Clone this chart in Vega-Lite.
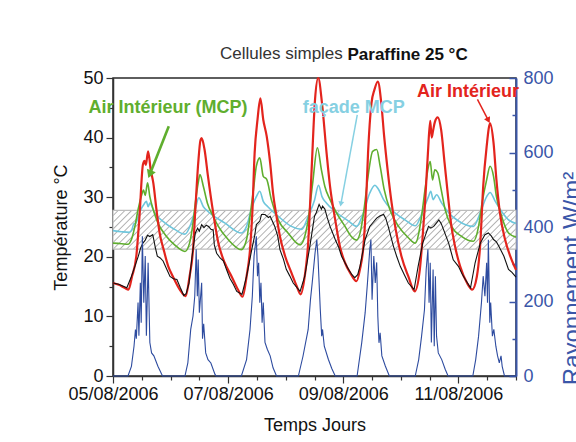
{
  "$schema": "https://vega.github.io/schema/vega-lite/v6.json",
  "width": 403,
  "height": 298,
  "autosize": "none",
  "padding": {"left": 113, "top": 78, "right": 60, "bottom": 66},
  "background": "white",
  "config": {
    "font": "Liberation Sans",
    "view": {"stroke": "#2a2a2a", "strokeWidth": 1.5},
    "axis": {"grid": false, "labelFont": "Liberation Sans", "titleFont": "Liberation Sans", "titleFontWeight": "normal"}
  },
  "title": {"text": "Cellules simples", "anchor": "start", "frame": "group", "dx": 107, "dy": 50, "offset": 19, "baseline": "alphabetic", "fontSize": 17, "fontWeight": "normal", "color": "#333333", "font": "Liberation Sans"},
  "datasets": {
    "band": [{"j": 0, "j2": 7, "v": 21.3, "v2": 27.8}],
    "air": [
      {"j":0,"v":15.6},{"j":0.1,"v":15.3},{"j":0.2,"v":14.8},{"j":0.27,"v":14.5},{"j":0.33,"v":16.7},{"j":0.405,"v":20.1},{"j":0.46,"v":26.8},{"j":0.52,"v":35.5},{"j":0.55,"v":36.1},{"j":0.57,"v":35.4},{"j":0.61,"v":37.7},{"j":0.655,"v":34.6},{"j":0.7,"v":32.4},{"j":0.755,"v":27.9},{"j":0.81,"v":24},{"j":0.88,"v":21.2},{"j":0.96,"v":18.4},{"j":1.04,"v":16.7},{"j":1.16,"v":14.5},{"j":1.26,"v":13.4},{"j":1.33,"v":16.7},{"j":1.39,"v":21.2},{"j":1.43,"v":27.9},{"j":1.48,"v":35.7},{"j":1.52,"v":39.6},{"j":1.54,"v":39.9},{"j":1.59,"v":38},{"j":1.65,"v":33.5},{"j":1.74,"v":27.4},{"j":1.83,"v":22.3},{"j":1.94,"v":19},{"j":2.06,"v":16.7},{"j":2.17,"v":14.5},{"j":2.25,"v":13.3},{"j":2.32,"v":16.7},{"j":2.38,"v":21.2},{"j":2.42,"v":27.4},{"j":2.46,"v":37.4},{"j":2.51,"v":43},{"j":2.56,"v":46.6},{"j":2.61,"v":43},{"j":2.67,"v":40.2},{"j":2.73,"v":35.7},{"j":2.78,"v":30.7},{"j":2.84,"v":26.8},{"j":2.9,"v":23.4},{"j":2.99,"v":20.1},{"j":3.1,"v":17.3},{"j":3.19,"v":15.1},{"j":3.26,"v":13.7},{"j":3.33,"v":16.7},{"j":3.39,"v":22.3},{"j":3.45,"v":34.6},{"j":3.51,"v":46.5},{"j":3.565,"v":50},{"j":3.63,"v":45.8},{"j":3.71,"v":37.4},{"j":3.77,"v":31.8},{"j":3.86,"v":26.2},{"j":3.94,"v":21.8},{"j":4.03,"v":19},{"j":4.12,"v":17.3},{"j":4.23,"v":15.9},{"j":4.29,"v":17.9},{"j":4.35,"v":21.8},{"j":4.39,"v":27.9},{"j":4.43,"v":37.4},{"j":4.49,"v":45.8},{"j":4.54,"v":48},{"j":4.6,"v":49.4},{"j":4.66,"v":45.8},{"j":4.71,"v":40.2},{"j":4.77,"v":34.6},{"j":4.84,"v":29},{"j":4.91,"v":24.6},{"j":5.01,"v":20.1},{"j":5.13,"v":16.7},{"j":5.24,"v":14.2},{"j":5.33,"v":17.9},{"j":5.37,"v":22.3},{"j":5.42,"v":29},{"j":5.47,"v":37.4},{"j":5.51,"v":42.8},{"j":5.535,"v":40},{"j":5.56,"v":41.2},{"j":5.59,"v":42.6},{"j":5.64,"v":43.4},{"j":5.7,"v":41.3},{"j":5.76,"v":35.7},{"j":5.82,"v":30.1},{"j":5.87,"v":25.7},{"j":5.94,"v":21.8},{"j":6.03,"v":18.4},{"j":6.15,"v":15.6},{"j":6.24,"v":14.5},{"j":6.32,"v":16.7},{"j":6.38,"v":22.3},{"j":6.43,"v":31.8},{"j":6.49,"v":38.5},{"j":6.55,"v":42.4},{"j":6.61,"v":39.1},{"j":6.66,"v":32.9},{"j":6.72,"v":27.4},{"j":6.81,"v":22.9},{"j":6.9,"v":20.1},{"j":7,"v":17.8}
    ],
    "mcp": [
      {"j":0,"v":22.3},{"j":0.15,"v":22.2},{"j":0.26,"v":22.1},{"j":0.32,"v":22.9},{"j":0.38,"v":25.1},{"j":0.435,"v":27.9},{"j":0.49,"v":30.1},{"j":0.53,"v":31.2},{"j":0.56,"v":30.3},{"j":0.6,"v":32.4},{"j":0.64,"v":30.1},{"j":0.7,"v":27.9},{"j":0.78,"v":25.7},{"j":0.93,"v":23.4},{"j":1.07,"v":22},{"j":1.25,"v":20.9},{"j":1.33,"v":22.3},{"j":1.39,"v":25.7},{"j":1.43,"v":29},{"j":1.48,"v":32.4},{"j":1.51,"v":33.8},{"j":1.57,"v":31.8},{"j":1.64,"v":29},{"j":1.74,"v":26.8},{"j":1.83,"v":25.1},{"j":2,"v":22.9},{"j":2.23,"v":21.2},{"j":2.32,"v":22.9},{"j":2.38,"v":26.8},{"j":2.44,"v":31.3},{"j":2.49,"v":35.2},{"j":2.55,"v":36.6},{"j":2.61,"v":33.5},{"j":2.67,"v":33},{"j":2.75,"v":29.6},{"j":2.87,"v":26.2},{"j":3.04,"v":24},{"j":3.25,"v":22},{"j":3.33,"v":23.4},{"j":3.39,"v":26.2},{"j":3.47,"v":32.5},{"j":3.55,"v":38.3},{"j":3.62,"v":34.6},{"j":3.68,"v":31.8},{"j":3.77,"v":29.6},{"j":3.88,"v":27.4},{"j":4.03,"v":25.1},{"j":4.14,"v":23.4},{"j":4.23,"v":22.8},{"j":4.3,"v":24.3},{"j":4.36,"v":27.9},{"j":4.43,"v":33.5},{"j":4.51,"v":37.7},{"j":4.58,"v":38},{"j":4.64,"v":35.2},{"j":4.71,"v":31.3},{"j":4.81,"v":27.9},{"j":4.96,"v":25.1},{"j":5.13,"v":23.2},{"j":5.25,"v":22.3},{"j":5.36,"v":26.8},{"j":5.42,"v":31.3},{"j":5.48,"v":35.2},{"j":5.51,"v":36},{"j":5.55,"v":32.9},{"j":5.59,"v":34.6},{"j":5.64,"v":34.1},{"j":5.7,"v":31.3},{"j":5.77,"v":27.9},{"j":5.88,"v":25.1},{"j":6.06,"v":23.4},{"j":6.26,"v":22.6},{"j":6.35,"v":25.1},{"j":6.41,"v":29},{"j":6.49,"v":32.9},{"j":6.55,"v":35.2},{"j":6.61,"v":33.5},{"j":6.66,"v":30.1},{"j":6.75,"v":26.8},{"j":6.87,"v":24},{"j":7,"v":23.3}
    ],
    "facade": [
      {"j":0,"v":24.4},{"j":0.15,"v":24.2},{"j":0.28,"v":24.1},{"j":0.33,"v":24.6},{"j":0.36,"v":25.5},{"j":0.4,"v":25.7},{"j":0.46,"v":27.4},{"j":0.55,"v":29},{"j":0.58,"v":29.3},{"j":0.61,"v":28.4},{"j":0.64,"v":29},{"j":0.72,"v":27.4},{"j":0.9,"v":25.7},{"j":1.07,"v":24.6},{"j":1.25,"v":23.8},{"j":1.36,"v":25.7},{"j":1.43,"v":28},{"j":1.49,"v":29.9},{"j":1.57,"v":28.4},{"j":1.65,"v":27.6},{"j":1.94,"v":25.7},{"j":2.23,"v":24},{"j":2.32,"v":25.1},{"j":2.4,"v":27.9},{"j":2.49,"v":30.1},{"j":2.55,"v":31},{"j":2.61,"v":29.3},{"j":2.69,"v":28.4},{"j":2.87,"v":26.8},{"j":3.1,"v":25.1},{"j":3.28,"v":24.6},{"j":3.39,"v":26.8},{"j":3.5,"v":29.5},{"j":3.57,"v":32},{"j":3.63,"v":30.1},{"j":3.71,"v":29},{"j":3.86,"v":27.6},{"j":4.09,"v":26},{"j":4.23,"v":25.1},{"j":4.35,"v":27.4},{"j":4.46,"v":30.7},{"j":4.55,"v":32},{"j":4.6,"v":31.5},{"j":4.7,"v":29.6},{"j":4.84,"v":27.9},{"j":5.07,"v":26.2},{"j":5.25,"v":25.2},{"j":5.39,"v":27.9},{"j":5.48,"v":30.1},{"j":5.52,"v":31},{"j":5.56,"v":29.6},{"j":5.62,"v":30.4},{"j":5.71,"v":29},{"j":5.83,"v":27.4},{"j":6,"v":26},{"j":6.26,"v":25.1},{"j":6.38,"v":27.4},{"j":6.49,"v":30.1},{"j":6.55,"v":30.8},{"j":6.64,"v":29.3},{"j":6.75,"v":27.6},{"j":6.87,"v":26.2},{"j":7,"v":25.6}
    ],
    "ext": [
      {"j":0,"v":15.6},{"j":0.1,"v":15.4},{"j":0.24,"v":14.8},{"j":0.32,"v":16.7},{"j":0.38,"v":18.4},{"j":0.44,"v":20.1},{"j":0.48,"v":21.5},{"j":0.52,"v":22.3},{"j":0.56,"v":22.8},{"j":0.6,"v":23.6},{"j":0.64,"v":23.4},{"j":0.69,"v":23.7},{"j":0.71,"v":22.8},{"j":0.73,"v":21.8},{"j":0.77,"v":20.1},{"j":0.82,"v":19.8},{"j":0.87,"v":19.3},{"j":0.93,"v":18},{"j":0.99,"v":16.7},{"j":1.05,"v":16.3},{"j":1.11,"v":16.2},{"j":1.17,"v":14.8},{"j":1.23,"v":13.5},{"j":1.27,"v":13.8},{"j":1.32,"v":15.6},{"j":1.38,"v":20.6},{"j":1.43,"v":24},{"j":1.47,"v":24.8},{"j":1.5,"v":24.3},{"j":1.54,"v":25.4},{"j":1.58,"v":24.9},{"j":1.62,"v":25.3},{"j":1.66,"v":25.1},{"j":1.7,"v":24.6},{"j":1.74,"v":24.5},{"j":1.76,"v":22},{"j":1.8,"v":20.6},{"j":1.86,"v":19.8},{"j":1.92,"v":19.3},{"j":1.97,"v":17.9},{"j":2.03,"v":16.4},{"j":2.09,"v":15.4},{"j":2.15,"v":14.2},{"j":2.24,"v":13.7},{"j":2.32,"v":16.7},{"j":2.41,"v":21.2},{"j":2.46,"v":23.5},{"j":2.49,"v":25.4},{"j":2.55,"v":26},{"j":2.58,"v":27.1},{"j":2.64,"v":27.1},{"j":2.7,"v":26.6},{"j":2.73,"v":26.8},{"j":2.81,"v":25.1},{"j":2.86,"v":23.5},{"j":2.9,"v":21.2},{"j":2.96,"v":19.6},{"j":3.01,"v":17.9},{"j":3.07,"v":16.8},{"j":3.13,"v":15.6},{"j":3.25,"v":14.2},{"j":3.33,"v":16.7},{"j":3.42,"v":21.8},{"j":3.5,"v":26.8},{"j":3.53,"v":27.4},{"j":3.58,"v":28.8},{"j":3.62,"v":28},{"j":3.64,"v":28.5},{"j":3.68,"v":28},{"j":3.72,"v":26.6},{"j":3.77,"v":25.1},{"j":3.86,"v":22.9},{"j":3.92,"v":21.6},{"j":3.97,"v":20.1},{"j":4.03,"v":19},{"j":4.09,"v":17.9},{"j":4.15,"v":17},{"j":4.2,"v":16.5},{"j":4.25,"v":17},{"j":4.29,"v":18.4},{"j":4.38,"v":22.9},{"j":4.46,"v":25.1},{"j":4.52,"v":25.8},{"j":4.58,"v":26.5},{"j":4.64,"v":26.9},{"j":4.7,"v":27.1},{"j":4.74,"v":26.4},{"j":4.78,"v":25.1},{"j":4.87,"v":21.8},{"j":4.93,"v":20},{"j":4.99,"v":18.4},{"j":5.06,"v":17},{"j":5.13,"v":15.6},{"j":5.23,"v":14.5},{"j":5.3,"v":18.4},{"j":5.38,"v":22.3},{"j":5.48,"v":25.1},{"j":5.52,"v":24.8},{"j":5.57,"v":25.1},{"j":5.62,"v":25.7},{"j":5.66,"v":26.2},{"j":5.7,"v":25.6},{"j":5.74,"v":24.6},{"j":5.83,"v":22.3},{"j":5.91,"v":19.5},{"j":6,"v":18.4},{"j":6.06,"v":17.2},{"j":6.12,"v":16.2},{"j":6.21,"v":14.8},{"j":6.29,"v":19},{"j":6.38,"v":22.3},{"j":6.46,"v":23.7},{"j":6.52,"v":24},{"j":6.57,"v":23.5},{"j":6.61,"v":22.9},{"j":6.66,"v":22.5},{"j":6.7,"v":21.8},{"j":6.79,"v":20.1},{"j":6.87,"v":17.9},{"j":6.93,"v":17.4},{"j":7,"v":16.6}
    ],
    "ray": [
      {"j":0,"r":0},{"j":0.26,"r":0},{"j":0.32,"r":26},{"j":0.365,"r":80},{"j":0.39,"r":125},{"j":0.405,"r":100},{"j":0.435,"r":197},{"j":0.45,"r":108},{"j":0.475,"r":250},{"j":0.49,"r":143},{"j":0.51,"r":375},{"j":0.535,"r":197},{"j":0.56,"r":322},{"j":0.58,"r":108},{"j":0.61,"r":304},{"j":0.64,"r":90},{"j":0.67,"r":62},{"j":0.71,"r":54},{"j":0.78,"r":26},{"j":0.86,"r":0},
      {"j":1.25,"r":0},{"j":1.3,"r":35},{"j":1.35,"r":125},{"j":1.39,"r":161},{"j":1.42,"r":214},{"j":1.445,"r":340},{"j":1.465,"r":214},{"j":1.48,"r":313},{"j":1.5,"r":170},{"j":1.54,"r":250},{"j":1.555,"r":100},{"j":1.575,"r":140},{"j":1.61,"r":62},{"j":1.65,"r":44},{"j":1.7,"r":35},{"j":1.77,"r":5},{"j":1.79,"r":0},
      {"j":2.23,"r":0},{"j":2.32,"r":44},{"j":2.38,"r":125},{"j":2.42,"r":214},{"j":2.45,"r":322},{"j":2.49,"r":375},{"j":2.51,"r":268},{"j":2.53,"r":304},{"j":2.55,"r":197},{"j":2.57,"r":250},{"j":2.59,"r":143},{"j":2.61,"r":197},{"j":2.64,"r":90},{"j":2.68,"r":72},{"j":2.73,"r":54},{"j":2.78,"r":22},{"j":2.84,"r":0},
      {"j":3.22,"r":0},{"j":3.3,"r":53},{"j":3.39,"r":125},{"j":3.43,"r":205},{"j":3.46,"r":250},{"j":3.51,"r":331},{"j":3.54,"r":366},{"j":3.56,"r":322},{"j":3.6,"r":180},{"j":3.625,"r":107},{"j":3.64,"r":125},{"j":3.67,"r":80},{"j":3.74,"r":45},{"j":3.8,"r":20},{"j":3.86,"r":0},
      {"j":4.24,"r":0},{"j":4.32,"r":89},{"j":4.38,"r":170},{"j":4.42,"r":250},{"j":4.46,"r":340},{"j":4.48,"r":366},{"j":4.5,"r":205},{"j":4.53,"r":322},{"j":4.555,"r":250},{"j":4.58,"r":305},{"j":4.6,"r":160},{"j":4.62,"r":89},{"j":4.64,"r":116},{"j":4.67,"r":54},{"j":4.73,"r":27},{"j":4.8,"r":0},
      {"j":5.25,"r":0},{"j":5.31,"r":44},{"j":5.36,"r":107},{"j":5.41,"r":178},{"j":5.44,"r":286},{"j":5.47,"r":340},{"j":5.49,"r":197},{"j":5.51,"r":304},{"j":5.53,"r":90},{"j":5.56,"r":286},{"j":5.58,"r":80},{"j":5.6,"r":268},{"j":5.62,"r":107},{"j":5.65,"r":62},{"j":5.71,"r":44},{"j":5.77,"r":18},{"j":5.82,"r":0},
      {"j":6.25,"r":0},{"j":6.3,"r":44},{"j":6.35,"r":107},{"j":6.4,"r":197},{"j":6.43,"r":268},{"j":6.46,"r":214},{"j":6.49,"r":304},{"j":6.505,"r":197},{"j":6.52,"r":366},{"j":6.545,"r":143},{"j":6.56,"r":197},{"j":6.59,"r":107},{"j":6.615,"r":125},{"j":6.65,"r":80},{"j":6.68,"r":54},{"j":6.71,"r":35},{"j":6.74,"r":54},{"j":6.76,"r":26},{"j":6.8,"r":0},{"j":7,"r":0}
    ],
    "labels": [
      {"k": "mcp", "label": "Air Intérieur (MCP)", "j": 0.957, "v": 45.0},
      {"k": "fac", "label": "façade MCP", "j": 4.183, "v": 45.0},
      {"k": "air", "label": "Air Intérieur", "j": 6.165, "v": 47.7}
    ],
    "arrows": [
      {"k": "mcp", "j": 0.64, "v": 33.85, "j2": 0.969, "v2": 41.9},
      {"k": "fac", "j": 3.958, "v": 28.85, "j2": 4.243, "v2": 43.8},
      {"k": "air", "j": 6.52, "v": 42.9, "j2": 6.33, "v2": 46.4}
    ]
  },
  "layer": [
    {
      "encoding": {
        "x": {"field": "j", "type": "quantitative", "scale": {"domain": [0, 7], "nice": false, "zero": false},
          "axis": {"orient": "bottom", "title": "Temps Jours", "values": [0,0.5,1,1.5,2,2.5,3,3.5,4,4.5,5,5.5,6,6.5,7],
            "labelExpr": "datum.value % 2 === 0 && datum.value < 7 ? timeFormat(datetime(2006, 7, 5 + datum.value), '%d/%m/%Y') : ''",
            "tickSize": {"condition": {"test": "datum.value % 2 === 0", "value": 7}, "value": 4},
            "labelFontSize": 18, "labelColor": "#111111", "labelPadding": 2, "labelOverlap": false, "labelFlush": false,
            "domainColor": "#333333", "domainWidth": 1.5, "tickColor": "#333333", "tickWidth": 1.2,
            "titleFontSize": 18, "titleColor": "#111111", "titlePadding": 13}},
        "y": {"field": "v", "type": "quantitative", "scale": {"domain": [0, 50], "nice": false, "zero": false},
          "axis": {"orient": "left", "title": "Température °C", "values": [0,5,10,15,20,25,30,35,40,45,50],
            "labelExpr": "datum.value % 10 === 0 ? datum.label : ''",
            "tickSize": {"condition": {"test": "datum.value % 10 === 0", "value": 7}, "value": 4},
            "labelFontSize": 18, "labelColor": "#111111", "labelPadding": 3, "labelOverlap": false, "labelFlush": false,
            "domainColor": "#333333", "domainWidth": 1.5, "tickColor": "#333333", "tickWidth": 1.2,
            "titleFontSize": 18, "titleColor": "#111111", "titlePadding": 12}}
      },
      "layer": [
        {
          "data": {"name": "band"},
          "mark": {"type": "rect", "stroke": "#bdbdbd", "strokeWidth": 1.2,
            "fill": {"gradient": "linear", "x1": 0, "y1": 0, "x2": 1.1, "y2": 0.1056, "stops": [
              {"offset":0,"color":"#ffffff"},
              {"offset":0.009,"color":"#ffffff"},{"offset":0.012,"color":"#b0b0b0"},{"offset":0.015,"color":"#ffffff"},
              {"offset":0.024,"color":"#ffffff"},{"offset":0.027,"color":"#b0b0b0"},{"offset":0.03,"color":"#ffffff"},
              {"offset":0.039,"color":"#ffffff"},{"offset":0.042,"color":"#b0b0b0"},{"offset":0.045,"color":"#ffffff"},
              {"offset":0.054,"color":"#ffffff"},{"offset":0.057,"color":"#b0b0b0"},{"offset":0.06,"color":"#ffffff"},
              {"offset":0.069,"color":"#ffffff"},{"offset":0.072,"color":"#b0b0b0"},{"offset":0.075,"color":"#ffffff"},
              {"offset":0.084,"color":"#ffffff"},{"offset":0.087,"color":"#b0b0b0"},{"offset":0.09,"color":"#ffffff"},
              {"offset":0.099,"color":"#ffffff"},{"offset":0.102,"color":"#b0b0b0"},{"offset":0.105,"color":"#ffffff"},
              {"offset":0.114,"color":"#ffffff"},{"offset":0.117,"color":"#b0b0b0"},{"offset":0.12,"color":"#ffffff"},
              {"offset":0.129,"color":"#ffffff"},{"offset":0.132,"color":"#b0b0b0"},{"offset":0.135,"color":"#ffffff"},
              {"offset":0.144,"color":"#ffffff"},{"offset":0.147,"color":"#b0b0b0"},{"offset":0.15,"color":"#ffffff"},
              {"offset":0.159,"color":"#ffffff"},{"offset":0.162,"color":"#b0b0b0"},{"offset":0.165,"color":"#ffffff"},
              {"offset":0.174,"color":"#ffffff"},{"offset":0.177,"color":"#b0b0b0"},{"offset":0.18,"color":"#ffffff"},
              {"offset":0.189,"color":"#ffffff"},{"offset":0.192,"color":"#b0b0b0"},{"offset":0.195,"color":"#ffffff"},
              {"offset":0.204,"color":"#ffffff"},{"offset":0.207,"color":"#b0b0b0"},{"offset":0.21,"color":"#ffffff"},
              {"offset":0.219,"color":"#ffffff"},{"offset":0.222,"color":"#b0b0b0"},{"offset":0.225,"color":"#ffffff"},
              {"offset":0.234,"color":"#ffffff"},{"offset":0.237,"color":"#b0b0b0"},{"offset":0.24,"color":"#ffffff"},
              {"offset":0.249,"color":"#ffffff"},{"offset":0.252,"color":"#b0b0b0"},{"offset":0.255,"color":"#ffffff"},
              {"offset":0.264,"color":"#ffffff"},{"offset":0.267,"color":"#b0b0b0"},{"offset":0.27,"color":"#ffffff"},
              {"offset":0.279,"color":"#ffffff"},{"offset":0.282,"color":"#b0b0b0"},{"offset":0.285,"color":"#ffffff"},
              {"offset":0.294,"color":"#ffffff"},{"offset":0.297,"color":"#b0b0b0"},{"offset":0.3,"color":"#ffffff"},
              {"offset":0.309,"color":"#ffffff"},{"offset":0.312,"color":"#b0b0b0"},{"offset":0.315,"color":"#ffffff"},
              {"offset":0.324,"color":"#ffffff"},{"offset":0.327,"color":"#b0b0b0"},{"offset":0.33,"color":"#ffffff"},
              {"offset":0.339,"color":"#ffffff"},{"offset":0.342,"color":"#b0b0b0"},{"offset":0.345,"color":"#ffffff"},
              {"offset":0.354,"color":"#ffffff"},{"offset":0.357,"color":"#b0b0b0"},{"offset":0.36,"color":"#ffffff"},
              {"offset":0.369,"color":"#ffffff"},{"offset":0.372,"color":"#b0b0b0"},{"offset":0.375,"color":"#ffffff"},
              {"offset":0.384,"color":"#ffffff"},{"offset":0.387,"color":"#b0b0b0"},{"offset":0.39,"color":"#ffffff"},
              {"offset":0.399,"color":"#ffffff"},{"offset":0.402,"color":"#b0b0b0"},{"offset":0.405,"color":"#ffffff"},
              {"offset":0.414,"color":"#ffffff"},{"offset":0.417,"color":"#b0b0b0"},{"offset":0.42,"color":"#ffffff"},
              {"offset":0.429,"color":"#ffffff"},{"offset":0.432,"color":"#b0b0b0"},{"offset":0.435,"color":"#ffffff"},
              {"offset":0.444,"color":"#ffffff"},{"offset":0.447,"color":"#b0b0b0"},{"offset":0.45,"color":"#ffffff"},
              {"offset":0.459,"color":"#ffffff"},{"offset":0.462,"color":"#b0b0b0"},{"offset":0.465,"color":"#ffffff"},
              {"offset":0.474,"color":"#ffffff"},{"offset":0.477,"color":"#b0b0b0"},{"offset":0.48,"color":"#ffffff"},
              {"offset":0.489,"color":"#ffffff"},{"offset":0.492,"color":"#b0b0b0"},{"offset":0.495,"color":"#ffffff"},
              {"offset":0.504,"color":"#ffffff"},{"offset":0.507,"color":"#b0b0b0"},{"offset":0.51,"color":"#ffffff"},
              {"offset":0.519,"color":"#ffffff"},{"offset":0.522,"color":"#b0b0b0"},{"offset":0.525,"color":"#ffffff"},
              {"offset":0.534,"color":"#ffffff"},{"offset":0.537,"color":"#b0b0b0"},{"offset":0.54,"color":"#ffffff"},
              {"offset":0.549,"color":"#ffffff"},{"offset":0.552,"color":"#b0b0b0"},{"offset":0.555,"color":"#ffffff"},
              {"offset":0.564,"color":"#ffffff"},{"offset":0.567,"color":"#b0b0b0"},{"offset":0.57,"color":"#ffffff"},
              {"offset":0.579,"color":"#ffffff"},{"offset":0.582,"color":"#b0b0b0"},{"offset":0.585,"color":"#ffffff"},
              {"offset":0.594,"color":"#ffffff"},{"offset":0.597,"color":"#b0b0b0"},{"offset":0.6,"color":"#ffffff"},
              {"offset":0.609,"color":"#ffffff"},{"offset":0.612,"color":"#b0b0b0"},{"offset":0.615,"color":"#ffffff"},
              {"offset":0.624,"color":"#ffffff"},{"offset":0.627,"color":"#b0b0b0"},{"offset":0.63,"color":"#ffffff"},
              {"offset":0.639,"color":"#ffffff"},{"offset":0.642,"color":"#b0b0b0"},{"offset":0.645,"color":"#ffffff"},
              {"offset":0.654,"color":"#ffffff"},{"offset":0.657,"color":"#b0b0b0"},{"offset":0.66,"color":"#ffffff"},
              {"offset":0.669,"color":"#ffffff"},{"offset":0.672,"color":"#b0b0b0"},{"offset":0.675,"color":"#ffffff"},
              {"offset":0.684,"color":"#ffffff"},{"offset":0.687,"color":"#b0b0b0"},{"offset":0.69,"color":"#ffffff"},
              {"offset":0.699,"color":"#ffffff"},{"offset":0.702,"color":"#b0b0b0"},{"offset":0.705,"color":"#ffffff"},
              {"offset":0.714,"color":"#ffffff"},{"offset":0.717,"color":"#b0b0b0"},{"offset":0.72,"color":"#ffffff"},
              {"offset":0.729,"color":"#ffffff"},{"offset":0.732,"color":"#b0b0b0"},{"offset":0.735,"color":"#ffffff"},
              {"offset":0.744,"color":"#ffffff"},{"offset":0.747,"color":"#b0b0b0"},{"offset":0.75,"color":"#ffffff"},
              {"offset":0.759,"color":"#ffffff"},{"offset":0.762,"color":"#b0b0b0"},{"offset":0.765,"color":"#ffffff"},
              {"offset":0.774,"color":"#ffffff"},{"offset":0.777,"color":"#b0b0b0"},{"offset":0.78,"color":"#ffffff"},
              {"offset":0.789,"color":"#ffffff"},{"offset":0.792,"color":"#b0b0b0"},{"offset":0.795,"color":"#ffffff"},
              {"offset":0.804,"color":"#ffffff"},{"offset":0.807,"color":"#b0b0b0"},{"offset":0.81,"color":"#ffffff"},
              {"offset":0.819,"color":"#ffffff"},{"offset":0.822,"color":"#b0b0b0"},{"offset":0.825,"color":"#ffffff"},
              {"offset":0.834,"color":"#ffffff"},{"offset":0.837,"color":"#b0b0b0"},{"offset":0.84,"color":"#ffffff"},
              {"offset":0.849,"color":"#ffffff"},{"offset":0.852,"color":"#b0b0b0"},{"offset":0.855,"color":"#ffffff"},
              {"offset":0.864,"color":"#ffffff"},{"offset":0.867,"color":"#b0b0b0"},{"offset":0.87,"color":"#ffffff"},
              {"offset":0.879,"color":"#ffffff"},{"offset":0.882,"color":"#b0b0b0"},{"offset":0.885,"color":"#ffffff"},
              {"offset":0.894,"color":"#ffffff"},{"offset":0.897,"color":"#b0b0b0"},{"offset":0.9,"color":"#ffffff"},
              {"offset":0.909,"color":"#ffffff"},{"offset":0.912,"color":"#b0b0b0"},{"offset":0.915,"color":"#ffffff"},
              {"offset":0.924,"color":"#ffffff"},{"offset":0.927,"color":"#b0b0b0"},{"offset":0.93,"color":"#ffffff"},
              {"offset":0.939,"color":"#ffffff"},{"offset":0.942,"color":"#b0b0b0"},{"offset":0.945,"color":"#ffffff"},
              {"offset":0.954,"color":"#ffffff"},{"offset":0.957,"color":"#b0b0b0"},{"offset":0.96,"color":"#ffffff"},
              {"offset":0.969,"color":"#ffffff"},{"offset":0.972,"color":"#b0b0b0"},{"offset":0.975,"color":"#ffffff"},
              {"offset":0.984,"color":"#ffffff"},{"offset":0.987,"color":"#b0b0b0"},{"offset":0.99,"color":"#ffffff"},
              {"offset":1,"color":"#ffffff"}
            ]}},
          "encoding": {"x2": {"field": "j2"}, "y2": {"field": "v2"}}
        },
        {"data": {"name": "facade"}, "mark": {"type": "line", "color": "#6ec6dc", "strokeWidth": 1.6, "interpolate": "monotone"}},
        {"data": {"name": "mcp"}, "mark": {"type": "line", "color": "#5fae2e", "strokeWidth": 1.6, "interpolate": "monotone"}},
        {"data": {"name": "air"}, "mark": {"type": "line", "color": "#e3241d", "strokeWidth": 2.2, "interpolate": "monotone"}},
        {"data": {"name": "ext"}, "mark": {"type": "line", "color": "#111111", "strokeWidth": 1.1}},
        {
          "data": {"name": "labels"},
          "mark": {"type": "text", "fontSize": 18, "fontWeight": "bold", "font": "Liberation Sans", "align": "center", "baseline": "middle"},
          "encoding": {
            "text": {"field": "label"},
            "color": {"field": "k", "type": "nominal", "scale": {"domain": ["mcp", "fac", "air"], "range": ["#5fae2e", "#86d0e2", "#e3241d"]}, "legend": null}
          }
        },
        {"data": {"name": "arrows"}, "transform": [{"filter": "datum.k === 'mcp'"}], "mark": {"type": "rule", "color": "#5fae2e", "strokeWidth": 2.6}, "encoding": {"x2": {"field": "j2"}, "y2": {"field": "v2"}}},
        {"data": {"name": "arrows"}, "transform": [{"filter": "datum.k === 'mcp'"}], "mark": {"type": "point", "shape": "triangle-down", "filled": true, "opacity": 1, "size": 90, "angle": 21.6, "color": "#5fae2e"}},
        {"data": {"name": "arrows"}, "transform": [{"filter": "datum.k === 'fac'"}], "mark": {"type": "rule", "color": "#86d0e2", "strokeWidth": 1.5}, "encoding": {"x2": {"field": "j2"}, "y2": {"field": "v2"}}},
        {"data": {"name": "arrows"}, "transform": [{"filter": "datum.k === 'fac'"}], "mark": {"type": "point", "shape": "triangle-down", "filled": true, "opacity": 1, "size": 35, "angle": 10.7, "color": "#86d0e2"}},
        {"data": {"name": "arrows"}, "transform": [{"filter": "datum.k === 'air'"}], "mark": {"type": "rule", "color": "#e3241d", "strokeWidth": 1.5}, "encoding": {"x2": {"field": "j2"}, "y2": {"field": "v2"}}},
        {"data": {"name": "arrows"}, "transform": [{"filter": "datum.k === 'air'"}], "mark": {"type": "point", "shape": "triangle-down", "filled": true, "opacity": 1, "size": 45, "angle": -27.8, "color": "#e3241d"}}
      ]
    },
    {
      "data": {"name": "ray"},
      "mark": {"type": "line", "color": "#2d4b9f", "strokeWidth": 1.1},
      "encoding": {
        "x": {"field": "j", "type": "quantitative", "scale": {"domain": [0, 7], "nice": false, "zero": false},
          "axis": {"orient": "top", "labels": false, "ticks": false, "domain": false, "title": "Paraffine  25 °C",
            "titleFontSize": 17, "titleFontWeight": "bold", "titleColor": "#111111", "titleX": 234, "titleY": -19, "titleAlign": "left", "titleBaseline": "alphabetic", "titleAngle": 0}},
        "y": {"field": "r", "type": "quantitative", "scale": {"domain": [0, 800], "nice": false, "zero": false},
          "axis": {"orient": "right", "title": "Rayonnement W/m²", "values": [0,100,200,300,400,500,600,700,800],
            "labelExpr": "datum.value % 200 === 0 ? datum.label : ''",
            "tickSize": {"condition": {"test": "datum.value % 200 === 0", "value": -7}, "value": -4},
            "labelFontSize": 18, "labelColor": "#3a56a8", "labelPadding": 14, "labelOverlap": false, "labelFlush": false,
            "domainColor": "#3a56a8", "domainWidth": 2, "tickColor": "#3a56a8", "tickWidth": 1.5,
            "titleFontSize": 24, "titleColor": "#3a56a8", "titleAngle": 270, "titleX": 56, "titleY": 200, "titleAlign": "center", "titleBaseline": "middle"}}
      }
    }
  ],
  "resolve": {"scale": {"y": "independent"}, "axis": {"x": "independent", "y": "independent"}}
}
